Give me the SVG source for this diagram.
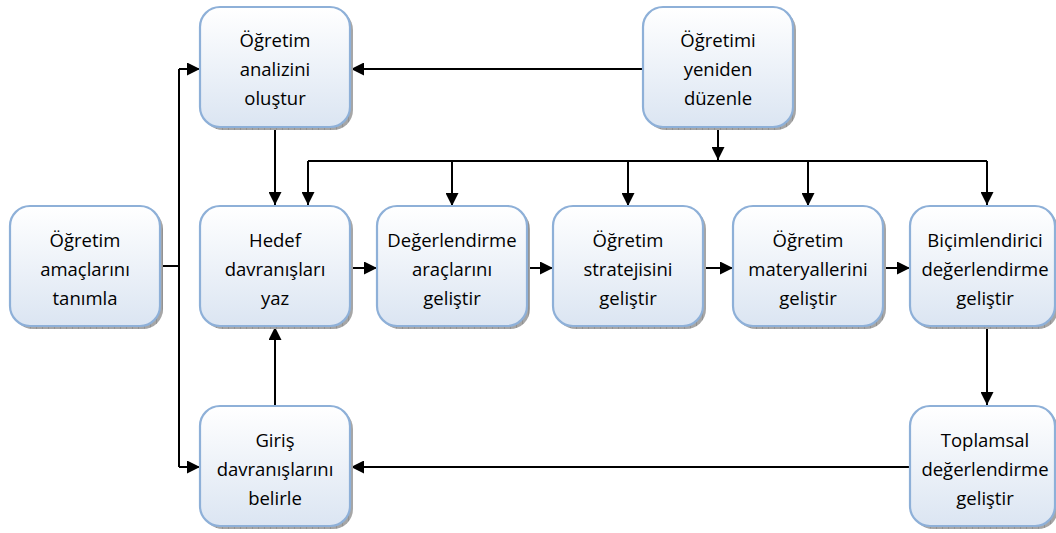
<svg xmlns="http://www.w3.org/2000/svg" width="1056" height="533" viewBox="0 0 1056 533">
<style>
.box{fill:url(#g);stroke:#8eb0d8;stroke-width:2.2}
.sh{fill:url(#hatch)}
.t{font-family:"Open Sans","Noto Sans","Liberation Sans",sans-serif;font-size:18.5px;fill:#000;text-anchor:middle}
.c{fill:none;stroke:#000;stroke-width:2}
.a{marker-end:url(#ah)}
</style>
<defs>
<linearGradient id="g" x1="0" y1="0" x2="0" y2="1">
<stop offset="0" stop-color="#ffffff"/>
<stop offset="1" stop-color="#dbe5f2"/>
</linearGradient>
<pattern id="hatch" width="6" height="6" patternUnits="userSpaceOnUse">
<rect width="6" height="6" fill="#a6a6a6"/>
<path d="M0 0V6" stroke="#7f7f7f" stroke-width="1"/>
</pattern>
<marker id="ah" viewBox="0 0 10 10" refX="10" refY="5" markerWidth="6.5" markerHeight="6.5" orient="auto" markerUnits="strokeWidth">
<path d="M0 0L10 5L0 10z" fill="#000"/>
</marker>
</defs>
<g id="connectors">
<path class="c" d="M160 266H179"/>
<path class="c" d="M179 69V467"/>
<path class="c a" d="M179 69H200"/>
<path class="c a" d="M179 467H200"/>
<path class="c a" d="M275 127V205"/>
<path class="c a" d="M643 69H351"/>
<path class="c a" d="M718 127V160"/>
<path class="c" d="M308 161H987"/>
<path class="c a" d="M308 161V205"/>
<path class="c a" d="M452 161V206"/>
<path class="c a" d="M628 161V206"/>
<path class="c a" d="M808 161V206"/>
<path class="c a" d="M987 161V205"/>
<path class="c a" d="M350 268H377"/>
<path class="c a" d="M527 268H553"/>
<path class="c a" d="M703 268H733"/>
<path class="c a" d="M883 268H910"/>
<path class="c a" d="M987 326V405"/>
<path class="c a" d="M910 467H351"/>
<path class="c a" d="M275 406V327"/>
</g>
<g id="n1">
<rect class="sh" x="13" y="209" width="150" height="120" rx="20"/>
<rect class="box" x="10" y="206" width="150" height="120" rx="20"/>
<text class="t" x="85" y="247">Öğretim</text><text class="t" x="85" y="276">amaçlarını</text><text class="t" x="85" y="305">tanımla</text>
</g>
<g id="n2">
<rect class="sh" x="203" y="10" width="150" height="120" rx="20"/>
<rect class="box" x="200" y="7" width="150" height="120" rx="20"/>
<text class="t" x="275" y="47">Öğretim</text><text class="t" x="275" y="76">analizini</text><text class="t" x="275" y="105">oluştur</text>
</g>
<g id="n3">
<rect class="sh" x="646" y="10" width="150" height="120" rx="20"/>
<rect class="box" x="643" y="7" width="150" height="120" rx="20"/>
<text class="t" x="718" y="47">Öğretimi</text><text class="t" x="718" y="76">yeniden</text><text class="t" x="718" y="105">düzenle</text>
</g>
<g id="n4">
<rect class="sh" x="203" y="209" width="150" height="120" rx="20"/>
<rect class="box" x="200" y="206" width="150" height="120" rx="20"/>
<text class="t" x="275" y="247">Hedef</text><text class="t" x="275" y="276">davranışları</text><text class="t" x="275" y="305">yaz</text>
</g>
<g id="n5">
<rect class="sh" x="380" y="209" width="150" height="120" rx="20"/>
<rect class="box" x="377" y="206" width="150" height="120" rx="20"/>
<text class="t" x="452" y="247">Değerlendirme</text><text class="t" x="452" y="276">araçlarını</text><text class="t" x="452" y="305">geliştir</text>
</g>
<g id="n6">
<rect class="sh" x="556" y="209" width="150" height="120" rx="20"/>
<rect class="box" x="553" y="206" width="150" height="120" rx="20"/>
<text class="t" x="628" y="247">Öğretim</text><text class="t" x="628" y="276">stratejisini</text><text class="t" x="628" y="305">geliştir</text>
</g>
<g id="n7">
<rect class="sh" x="736" y="209" width="150" height="120" rx="20"/>
<rect class="box" x="733" y="206" width="150" height="120" rx="20"/>
<text class="t" x="808" y="247">Öğretim</text><text class="t" x="808" y="276">materyallerini</text><text class="t" x="808" y="305">geliştir</text>
</g>
<g id="n8">
<rect class="sh" x="913" y="209" width="145" height="120" rx="20"/>
<rect class="box" x="910" y="206" width="145" height="120" rx="20"/>
<text class="t" x="985" y="247">Biçimlendirici</text><text class="t" x="985" y="276">değerlendirme</text><text class="t" x="985" y="305">geliştir</text>
</g>
<g id="n9">
<rect class="sh" x="203" y="409" width="150" height="120" rx="20"/>
<rect class="box" x="200" y="406" width="150" height="120" rx="20"/>
<text class="t" x="275" y="447">Giriş</text><text class="t" x="275" y="476">davranışlarını</text><text class="t" x="275" y="505">belirle</text>
</g>
<g id="n10">
<rect class="sh" x="913" y="409" width="145" height="120" rx="20"/>
<rect class="box" x="910" y="406" width="145" height="120" rx="20"/>
<text class="t" x="985" y="447">Toplamsal</text><text class="t" x="985" y="476">değerlendirme</text><text class="t" x="985" y="505">geliştir</text>
</g>
</svg>
